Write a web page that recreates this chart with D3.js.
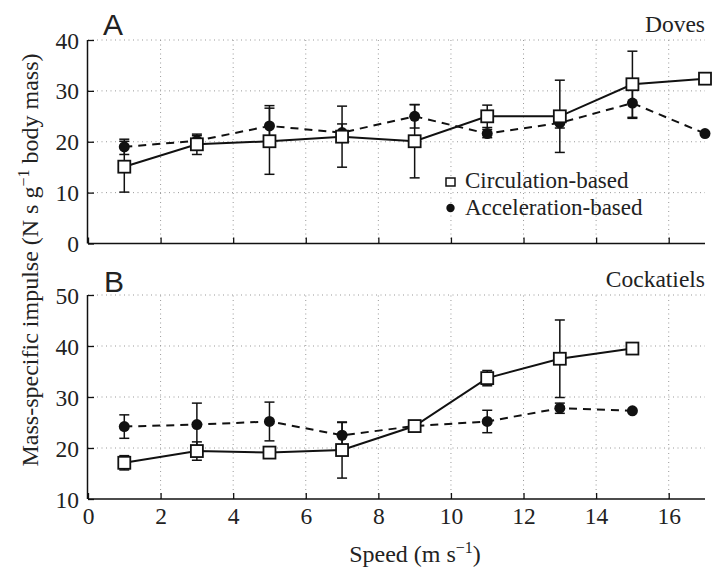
<!DOCTYPE html>
<html>
<head>
<meta charset="utf-8">
<script src="https://cdn.jsdelivr.net/npm/d3@7"></script>
<style>
  body { margin: 0; background: #fff; }
  .grid line { stroke: #999; stroke-width: 1; stroke-dasharray: 1,3.5; }
</style>
</head>
<body>
<svg id="vis" width="719" height="567"></svg>
<script>
const speeds = [1, 3, 5, 7, 9, 11, 13, 15, 17];
const speedsB = [1, 3, 5, 7, 9, 11, 13, 15];

// Doves
const doveCirc = [15.1, 19.5, 20.1, 21.0, 20.1, 25.0, 25.0, 31.3, 32.4];
const doveCircErr = [5.0, 2.0, 6.5, 6.0, 7.2, 2.2, 7.1, 6.5, 0];
const doveAcc = [19.0, 20.2, 23.1, 21.8, 25.0, 21.6, 23.7, 27.6, 21.6];
const doveAccErr = [1.5, 1.0, 4.0, 1.7, 2.3, 0.8, 1.0, 3.0, 0];

// Cockatiels
const cockCirc = [17.1, 19.4, 19.1, 19.6, 24.3, 33.7, 37.5, 39.5];
const cockCircErr = [1.4, 1.8, 0, 5.5, 0, 1.5, 7.6, 0];
const cockAcc = [24.2, 24.6, 25.2, 22.5, 24.3, 25.2, 27.8, 27.3];
const cockAccErr = [2.3, 4.2, 3.8, 2.5, 0, 2.2, 1.0, 0];

const xTicks = [0, 2, 4, 6, 8, 10, 12, 14, 16];
const yTicksA = [0, 10, 20, 30, 40];
const yTicksB = [10, 20, 30, 40, 50];

const serif = "'Liberation Serif', 'Times New Roman', 'DejaVu Serif', serif";
const sans = "'Liberation Sans', Arial, sans-serif";
const fs = 23.5;

const svg = d3.select("#vis");
const x = d3.scaleLinear().domain([0, 17]).range([88, 705]);

function drawPanel(opts) {
  const y = d3.scaleLinear().domain(opts.ydomain).range(opts.yrange);
  const g = svg.append("g");
  const [y0, y1] = opts.yrange;

  // grid
  const grid = g.append("g").attr("class", "grid");
  grid.selectAll(".gx").data(xTicks.filter(d => d > 0)).enter().append("line")
    .attr("x1", d => x(d)).attr("x2", d => x(d))
    .attr("y1", y0).attr("y2", y1);
  grid.selectAll(".gy").data(opts.yticks.slice(1)).enter().append("line")
    .attr("x1", x(0)).attr("x2", x(17))
    .attr("y1", d => y(d)).attr("y2", d => y(d));

  // axes
  const yAxis = d3.axisLeft(y).tickValues(opts.yticks).tickSize(-6).tickPadding(9);
  const ya = g.append("g").attr("transform", `translate(${x(0)},0)`).call(yAxis);
  const xAxis = d3.axisBottom(x).tickValues(xTicks).tickSize(-6).tickPadding(8)
    .tickFormat(opts.xlabels ? d3.format("d") : "");
  const xa = g.append("g").attr("transform", `translate(0,${y0})`).call(xAxis);
  [ya, xa].forEach(a => {
    a.select(".domain").attr("stroke", "#111").attr("stroke-width", 1.5);
    a.selectAll(".tick line").attr("stroke", "#111").attr("stroke-width", 1.3);
    a.selectAll("text").style("font-size", fs + "px").style("font-family", serif).attr("fill", "#222");
  });
  ya.select(".domain").attr("d", `M-0.5,${y1}V${y0}`);
  xa.select(".domain").attr("d", `M${x(0)},0H${x(17)}`);
  ya.selectAll(".tick text").attr("dy", "0.34em");

  const line = d3.line().x((d, i) => x(opts.sx[i])).y(d => y(d));

  // lines
  g.append("path").datum(opts.acc).attr("d", line)
    .attr("fill", "none").attr("stroke", "#111").attr("stroke-width", 2)
    .attr("stroke-dasharray", "8,6");
  g.append("path").datum(opts.circ).attr("d", line)
    .attr("fill", "none").attr("stroke", "#111").attr("stroke-width", 2);

  // error bars
  function errBars(vals, errs) {
    const eb = g.append("g").attr("stroke", "#111").attr("stroke-width", 1.5);
    vals.forEach((v, i) => {
      if (!errs[i]) return;
      const cx = x(opts.sx[i]);
      const lo = y(v - errs[i]), hi = y(v + errs[i]);
      eb.append("line").attr("x1", cx).attr("x2", cx).attr("y1", lo).attr("y2", hi);
      eb.append("line").attr("x1", cx - 5).attr("x2", cx + 5).attr("y1", lo).attr("y2", lo);
      eb.append("line").attr("x1", cx - 5).attr("x2", cx + 5).attr("y1", hi).attr("y2", hi);
    });
  }
  errBars(opts.acc, opts.accErr);
  errBars(opts.circ, opts.circErr);

  g.selectAll(".acc").data(opts.acc).enter().append("circle")
    .attr("cx", (d, i) => x(opts.sx[i])).attr("cy", d => y(d)).attr("r", 5.5)
    .attr("fill", "#111");
  g.selectAll(".circ").data(opts.circ).enter().append("rect")
    .attr("x", (d, i) => x(opts.sx[i]) - 6).attr("y", d => y(d) - 6)
    .attr("width", 12).attr("height", 12)
    .attr("fill", "#fff").attr("stroke", "#111").attr("stroke-width", 1.8);

  g.append("text").attr("x", opts.letterX).attr("y", opts.letterY)
    .style("font-family", sans).style("font-size", "30px").attr("fill", "#222")
    .text(opts.letter);
  g.append("text").attr("x", 705).attr("y", opts.nameY).attr("text-anchor", "end")
    .style("font-family", serif).style("font-size", fs + "px").attr("fill", "#222")
    .text(opts.name);
  return g;
}

drawPanel({
  ydomain: [0, 40], yrange: [243.5, 40], yticks: yTicksA, sx: speeds,
  circ: doveCirc, circErr: doveCircErr, acc: doveAcc, accErr: doveAccErr,
  xlabels: false, letter: "A", letterX: 103, letterY: 35, name: "Doves", nameY: 32
});
drawPanel({
  ydomain: [10, 50], yrange: [499, 295], yticks: yTicksB, sx: speedsB,
  circ: cockCirc, circErr: cockCircErr, acc: cockAcc, accErr: cockAccErr,
  xlabels: true, letter: "B", letterX: 104, letterY: 292, name: "Cockatiels", nameY: 287
});

// legend
const leg = svg.append("g");
leg.append("rect").attr("x", 446).attr("y", 178).attr("width", 9).attr("height", 8)
  .attr("fill", "#fff").attr("stroke", "#111").attr("stroke-width", 1.5);
leg.append("text").attr("x", 465).attr("y", 188).text("Circulation-based");
leg.append("circle").attr("cx", 450.5).attr("cy", 208).attr("r", 4.2).attr("fill", "#111");
leg.append("text").attr("x", 465).attr("y", 215).text("Acceleration-based");
leg.selectAll("text").style("font-family", serif).style("font-size", "23px").attr("fill", "#222");

// axis titles
const xt = svg.append("text").attr("x", 415).attr("y", 562).attr("text-anchor", "middle");
xt.append("tspan").text("Speed (m s");
xt.append("tspan").attr("dy", -9).style("font-size", "16px").text("\u22121");
xt.append("tspan").attr("dy", 9).text(")");

const yt = svg.append("text").attr("transform", "translate(38,260) rotate(-90)")
  .attr("text-anchor", "middle");
yt.append("tspan").text("Mass-specific impulse (N s g");
yt.append("tspan").attr("dy", -9).style("font-size", "16px").text("\u22121");
yt.append("tspan").attr("dy", 9).text(" body mass)");

[xt, yt].forEach(t => t.style("font-family", serif).style("font-size", "24px").attr("fill", "#222"));
</script>
</body>
</html>
